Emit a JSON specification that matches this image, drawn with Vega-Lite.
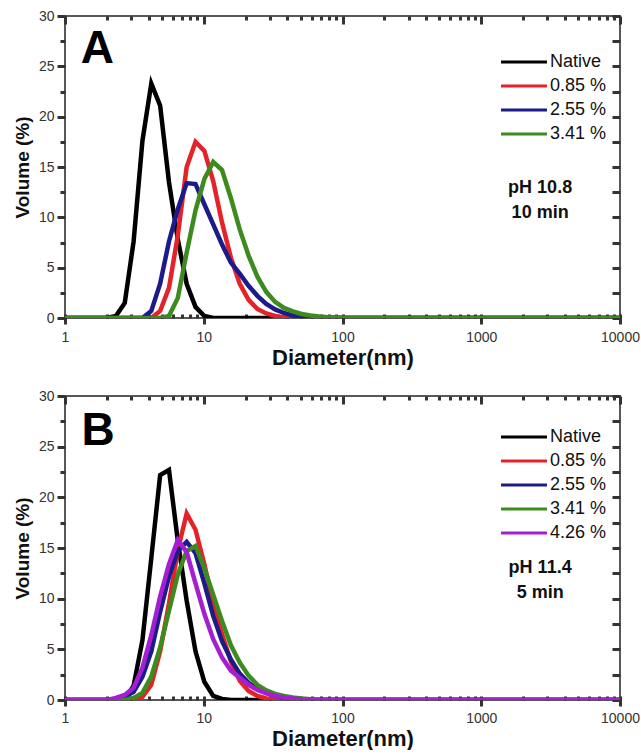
{
  "$schema": "https://vega.github.io/schema/vega-lite/v6.json",
  "padding": {"left": 12, "top": 8, "right": 0, "bottom": 0},
  "spacing": 19,
  "background": "white",
  "config": {
    "view": {"stroke": "#222", "strokeWidth": 1.5},
    "axis": {"domain": false, "grid": false},
    "legend": {
      "orient": "none",
      "title": null,
      "padding": 0,
      "symbolType": "M-8,0H8",
      "symbolSize": 33,
      "symbolStrokeWidth": 3,
      "labelFont": "Liberation Sans",
      "labelFontSize": 18,
      "labelColor": "#111",
      "labelOffset": 17,
      "rowPadding": 6
    }
  },
  "datasets": {
    "a": [
      {"d": 0.965, "v": 0, "s": "Native"}, {"d": 2.010, "v": 0, "s": "Native"}, {"d": 2.328, "v": 0.2, "s": "Native"}, {"d": 2.696, "v": 1.5, "s": "Native"}, {"d": 3.122, "v": 7.6, "s": "Native"}, {"d": 3.615, "v": 17.6, "s": "Native"}, {"d": 4.187, "v": 23.3, "s": "Native"}, {"d": 4.849, "v": 21.1, "s": "Native"}, {"d": 5.615, "v": 13.5, "s": "Native"}, {"d": 6.503, "v": 7.8, "s": "Native"}, {"d": 7.531, "v": 3.4, "s": "Native"}, {"d": 8.721, "v": 1.1, "s": "Native"}, {"d": 10.10, "v": 0.2, "s": "Native"}, {"d": 11.70, "v": 0, "s": "Native"}, {"d": 10000, "v": 0, "s": "Native"},
      {"d": 0.965, "v": 0, "s": "0.85 %"}, {"d": 4.187, "v": 0, "s": "0.85 %"}, {"d": 4.849, "v": 0.7, "s": "0.85 %"}, {"d": 5.615, "v": 3.0, "s": "0.85 %"}, {"d": 6.503, "v": 8.2, "s": "0.85 %"}, {"d": 7.531, "v": 15.0, "s": "0.85 %"}, {"d": 8.721, "v": 17.5, "s": "0.85 %"}, {"d": 10.10, "v": 16.6, "s": "0.85 %"}, {"d": 11.70, "v": 13.6, "s": "0.85 %"}, {"d": 13.54, "v": 9.5, "s": "0.85 %"}, {"d": 15.69, "v": 6.0, "s": "0.85 %"}, {"d": 18.17, "v": 3.4, "s": "0.85 %"}, {"d": 21.04, "v": 1.8, "s": "0.85 %"}, {"d": 24.36, "v": 0.9, "s": "0.85 %"}, {"d": 28.21, "v": 0.45, "s": "0.85 %"}, {"d": 32.67, "v": 0.2, "s": "0.85 %"}, {"d": 37.84, "v": 0.08, "s": "0.85 %"}, {"d": 43.82, "v": 0, "s": "0.85 %"}, {"d": 10000, "v": 0, "s": "0.85 %"},
      {"d": 0.965, "v": 0, "s": "2.55 %"}, {"d": 3.615, "v": 0, "s": "2.55 %"}, {"d": 4.187, "v": 0.7, "s": "2.55 %"}, {"d": 4.849, "v": 3.4, "s": "2.55 %"}, {"d": 5.615, "v": 7.6, "s": "2.55 %"}, {"d": 6.503, "v": 10.8, "s": "2.55 %"}, {"d": 7.531, "v": 13.4, "s": "2.55 %"}, {"d": 8.721, "v": 13.3, "s": "2.55 %"}, {"d": 10.10, "v": 11.3, "s": "2.55 %"}, {"d": 11.70, "v": 9.3, "s": "2.55 %"}, {"d": 13.54, "v": 7.3, "s": "2.55 %"}, {"d": 15.69, "v": 5.5, "s": "2.55 %"}, {"d": 18.17, "v": 4.4, "s": "2.55 %"}, {"d": 21.04, "v": 3.2, "s": "2.55 %"}, {"d": 24.36, "v": 2.2, "s": "2.55 %"}, {"d": 28.21, "v": 1.4, "s": "2.55 %"}, {"d": 32.67, "v": 0.85, "s": "2.55 %"}, {"d": 37.84, "v": 0.5, "s": "2.55 %"}, {"d": 43.82, "v": 0.25, "s": "2.55 %"}, {"d": 50.75, "v": 0.12, "s": "2.55 %"}, {"d": 58.77, "v": 0.05, "s": "2.55 %"}, {"d": 68.06, "v": 0, "s": "2.55 %"}, {"d": 10000, "v": 0, "s": "2.55 %"},
      {"d": 0.965, "v": 0, "s": "3.41 %"}, {"d": 4.849, "v": 0, "s": "3.41 %"}, {"d": 5.615, "v": 0.2, "s": "3.41 %"}, {"d": 6.503, "v": 2.0, "s": "3.41 %"}, {"d": 7.531, "v": 6.5, "s": "3.41 %"}, {"d": 8.721, "v": 10.7, "s": "3.41 %"}, {"d": 10.10, "v": 13.8, "s": "3.41 %"}, {"d": 11.70, "v": 15.5, "s": "3.41 %"}, {"d": 13.54, "v": 14.7, "s": "3.41 %"}, {"d": 15.69, "v": 11.9, "s": "3.41 %"}, {"d": 18.17, "v": 8.8, "s": "3.41 %"}, {"d": 21.04, "v": 6.2, "s": "3.41 %"}, {"d": 24.36, "v": 4.1, "s": "3.41 %"}, {"d": 28.21, "v": 2.6, "s": "3.41 %"}, {"d": 32.67, "v": 1.6, "s": "3.41 %"}, {"d": 37.84, "v": 1.0, "s": "3.41 %"}, {"d": 43.82, "v": 0.65, "s": "3.41 %"}, {"d": 50.75, "v": 0.4, "s": "3.41 %"}, {"d": 58.77, "v": 0.25, "s": "3.41 %"}, {"d": 68.06, "v": 0.15, "s": "3.41 %"}, {"d": 78.82, "v": 0.08, "s": "3.41 %"}, {"d": 91.28, "v": 0.04, "s": "3.41 %"}, {"d": 105.7, "v": 0, "s": "3.41 %"}, {"d": 10000, "v": 0, "s": "3.41 %"}
    ],
    "b": [
      {"d": 0.965, "v": 0, "s": "Native"}, {"d": 2.328, "v": 0, "s": "Native"}, {"d": 2.696, "v": 0.1, "s": "Native"}, {"d": 3.122, "v": 1.4, "s": "Native"}, {"d": 3.615, "v": 5.9, "s": "Native"}, {"d": 4.187, "v": 14.0, "s": "Native"}, {"d": 4.849, "v": 22.2, "s": "Native"}, {"d": 5.615, "v": 22.7, "s": "Native"}, {"d": 6.503, "v": 15.7, "s": "Native"}, {"d": 7.531, "v": 9.8, "s": "Native"}, {"d": 8.721, "v": 4.8, "s": "Native"}, {"d": 10.10, "v": 1.8, "s": "Native"}, {"d": 11.70, "v": 0.4, "s": "Native"}, {"d": 13.54, "v": 0.1, "s": "Native"}, {"d": 15.69, "v": 0, "s": "Native"}, {"d": 10000, "v": 0, "s": "Native"},
      {"d": 0.965, "v": 0, "s": "0.85 %"}, {"d": 3.122, "v": 0, "s": "0.85 %"}, {"d": 3.615, "v": 0.3, "s": "0.85 %"}, {"d": 4.187, "v": 1.5, "s": "0.85 %"}, {"d": 4.849, "v": 4.8, "s": "0.85 %"}, {"d": 5.615, "v": 9.5, "s": "0.85 %"}, {"d": 6.503, "v": 14.8, "s": "0.85 %"}, {"d": 7.531, "v": 18.4, "s": "0.85 %"}, {"d": 8.721, "v": 16.8, "s": "0.85 %"}, {"d": 10.10, "v": 13.4, "s": "0.85 %"}, {"d": 11.70, "v": 9.6, "s": "0.85 %"}, {"d": 13.54, "v": 6.5, "s": "0.85 %"}, {"d": 15.69, "v": 3.8, "s": "0.85 %"}, {"d": 18.17, "v": 1.9, "s": "0.85 %"}, {"d": 21.04, "v": 0.9, "s": "0.85 %"}, {"d": 24.36, "v": 0.4, "s": "0.85 %"}, {"d": 28.21, "v": 0.15, "s": "0.85 %"}, {"d": 32.67, "v": 0.05, "s": "0.85 %"}, {"d": 37.84, "v": 0, "s": "0.85 %"}, {"d": 10000, "v": 0, "s": "0.85 %"},
      {"d": 0.965, "v": 0, "s": "2.55 %"}, {"d": 2.328, "v": 0, "s": "2.55 %"}, {"d": 2.696, "v": 0.3, "s": "2.55 %"}, {"d": 3.122, "v": 0.8, "s": "2.55 %"}, {"d": 3.615, "v": 2.3, "s": "2.55 %"}, {"d": 4.187, "v": 4.8, "s": "2.55 %"}, {"d": 4.849, "v": 8.7, "s": "2.55 %"}, {"d": 5.615, "v": 12.2, "s": "2.55 %"}, {"d": 6.503, "v": 14.7, "s": "2.55 %"}, {"d": 7.531, "v": 15.6, "s": "2.55 %"}, {"d": 8.721, "v": 14.5, "s": "2.55 %"}, {"d": 10.10, "v": 11.5, "s": "2.55 %"}, {"d": 11.70, "v": 8.3, "s": "2.55 %"}, {"d": 13.54, "v": 5.8, "s": "2.55 %"}, {"d": 15.69, "v": 4.0, "s": "2.55 %"}, {"d": 18.17, "v": 2.6, "s": "2.55 %"}, {"d": 21.04, "v": 1.7, "s": "2.55 %"}, {"d": 24.36, "v": 1.1, "s": "2.55 %"}, {"d": 28.21, "v": 0.7, "s": "2.55 %"}, {"d": 32.67, "v": 0.4, "s": "2.55 %"}, {"d": 37.84, "v": 0.2, "s": "2.55 %"}, {"d": 43.82, "v": 0.1, "s": "2.55 %"}, {"d": 50.75, "v": 0.05, "s": "2.55 %"}, {"d": 58.77, "v": 0, "s": "2.55 %"}, {"d": 10000, "v": 0, "s": "2.55 %"},
      {"d": 0.965, "v": 0, "s": "3.41 %"}, {"d": 2.696, "v": 0, "s": "3.41 %"}, {"d": 3.122, "v": 0.2, "s": "3.41 %"}, {"d": 3.615, "v": 0.7, "s": "3.41 %"}, {"d": 4.187, "v": 2.3, "s": "3.41 %"}, {"d": 4.849, "v": 5.2, "s": "3.41 %"}, {"d": 5.615, "v": 8.8, "s": "3.41 %"}, {"d": 6.503, "v": 12.4, "s": "3.41 %"}, {"d": 7.531, "v": 14.7, "s": "3.41 %"}, {"d": 8.721, "v": 15.2, "s": "3.41 %"}, {"d": 10.10, "v": 13.0, "s": "3.41 %"}, {"d": 11.70, "v": 10.4, "s": "3.41 %"}, {"d": 13.54, "v": 7.8, "s": "3.41 %"}, {"d": 15.69, "v": 5.4, "s": "3.41 %"}, {"d": 18.17, "v": 3.7, "s": "3.41 %"}, {"d": 21.04, "v": 2.4, "s": "3.41 %"}, {"d": 24.36, "v": 1.5, "s": "3.41 %"}, {"d": 28.21, "v": 0.95, "s": "3.41 %"}, {"d": 32.67, "v": 0.6, "s": "3.41 %"}, {"d": 37.84, "v": 0.4, "s": "3.41 %"}, {"d": 43.82, "v": 0.25, "s": "3.41 %"}, {"d": 50.75, "v": 0.15, "s": "3.41 %"}, {"d": 58.77, "v": 0.08, "s": "3.41 %"}, {"d": 68.06, "v": 0.03, "s": "3.41 %"}, {"d": 78.82, "v": 0, "s": "3.41 %"}, {"d": 10000, "v": 0, "s": "3.41 %"},
      {"d": 0.965, "v": 0, "s": "4.26 %"}, {"d": 2.010, "v": 0, "s": "4.26 %"}, {"d": 2.328, "v": 0.2, "s": "4.26 %"}, {"d": 2.696, "v": 0.5, "s": "4.26 %"}, {"d": 3.122, "v": 1.2, "s": "4.26 %"}, {"d": 3.615, "v": 3.2, "s": "4.26 %"}, {"d": 4.187, "v": 6.4, "s": "4.26 %"}, {"d": 4.849, "v": 10.2, "s": "4.26 %"}, {"d": 5.615, "v": 13.4, "s": "4.26 %"}, {"d": 6.503, "v": 15.8, "s": "4.26 %"}, {"d": 7.531, "v": 14.6, "s": "4.26 %"}, {"d": 8.721, "v": 11.5, "s": "4.26 %"}, {"d": 10.10, "v": 8.5, "s": "4.26 %"}, {"d": 11.70, "v": 6.0, "s": "4.26 %"}, {"d": 13.54, "v": 4.2, "s": "4.26 %"}, {"d": 15.69, "v": 2.9, "s": "4.26 %"}, {"d": 18.17, "v": 2.2, "s": "4.26 %"}, {"d": 21.04, "v": 1.5, "s": "4.26 %"}, {"d": 24.36, "v": 1.0, "s": "4.26 %"}, {"d": 28.21, "v": 0.65, "s": "4.26 %"}, {"d": 32.67, "v": 0.4, "s": "4.26 %"}, {"d": 37.84, "v": 0.25, "s": "4.26 %"}, {"d": 43.82, "v": 0.15, "s": "4.26 %"}, {"d": 50.75, "v": 0.08, "s": "4.26 %"}, {"d": 58.77, "v": 0.03, "s": "4.26 %"}, {"d": 68.06, "v": 0, "s": "4.26 %"}, {"d": 10000, "v": 0, "s": "4.26 %"}
    ]
  },
  "resolve": {"scale": {"color": "independent"}, "legend": {"color": "independent"}},
  "vconcat": [
    {
      "width": 555,
      "height": 302,
      "resolve": {"axis": {"x": "independent", "y": "independent"}},
      "layer": [
        {
          "data": {"name": "a"},
          "mark": {"type": "line", "strokeWidth": 4.5, "clip": true},
          "encoding": {
            "x": {"field": "d", "type": "quantitative",
              "scale": {"type": "log", "domain": [1, 10000], "nice": false},
              "axis": {"orient": "bottom", "offset": -4, "tickColor": "#333", "tickWidth": 3,
                "labelFont": "Liberation Sans", "labelFontSize": 14, "labelColor": "#333",
                "titleFont": "Liberation Sans", "titleFontWeight": "bold", "titleColor": "#111",
                "title": "Diameter(nm)", "titleFontSize": 22, "titlePadding": 3,
                "values": [1,2,3,4,5,6,7,8,9,10,20,30,40,50,60,70,80,90,100,200,300,400,500,600,700,800,900,1000,2000,3000,4000,5000,6000,7000,8000,9000,10000],
                "format": "d", "labelFlush": false, "labelOverlap": false, "labelPadding": 6,
                "labelExpr": "indexof(['1','10','100','1000','10000'], datum.label) >= 0 ? datum.label : ''",
                "tickSize": {"condition": {"test": "indexof([1,10,100,1000,10000], datum.value) >= 0", "value": 10}, "value": 4}}},
            "y": {"field": "v", "type": "quantitative",
              "scale": {"domain": [0, 30], "nice": false},
              "axis": {"orient": "left", "tickColor": "#333", "tickWidth": 3,
                "labelFont": "Liberation Sans", "labelFontSize": 14, "labelColor": "#333",
                "titleFont": "Liberation Sans", "titleFontWeight": "bold", "titleColor": "#111",
                "title": "Volume (%)", "titleFontSize": 19, "titlePadding": 6,
                "values": [0,2.5,5,7.5,10,12.5,15,17.5,20,22.5,25,27.5,30],
                "labelExpr": "datum.value % 5 === 0 ? datum.label : ''", "labelPadding": 3,
                "tickSize": {"condition": {"test": "datum.value % 5 === 0", "value": 8}, "value": 5}}},
            "color": {"field": "s", "type": "nominal",
              "scale": {"domain": ["Native", "0.85 %", "2.55 %", "3.41 %"], "range": ["#000000", "#e3222a", "#1d1a8a", "#3d8a1f"]},
              "legend": {"legendX": 450, "legendY": 37}}
          }
        },
        {
          "data": {"values": [{"x": 2657, "y": 12.9, "t": "pH 10.8"}, {"x": 2657, "y": 10.4, "t": "10 min"}]},
          "mark": {"type": "text", "fontSize": 18, "fontWeight": "bold", "color": "#111", "font": "Liberation Sans"},
          "encoding": {
            "x": {"field": "x", "type": "quantitative", "scale": {"type": "log", "domain": [1, 10000], "nice": false},
              "axis": {"orient": "top", "tickColor": "#333", "tickWidth": 3, "title": null, "labels": false, "tickSize": -8,
                "values": [1,10,100,1000,10000]}},
            "y": {"field": "y", "type": "quantitative", "scale": {"domain": [0, 30], "nice": false},
              "axis": {"orient": "right", "tickColor": "#333", "tickWidth": 3, "title": null, "labels": false, "tickSize": -8,
                "values": [0,2.5,5,7.5,10,12.5,15,17.5,20,22.5,25,27.5,30]}},
            "text": {"field": "t"}
          }
        },
        {
          "data": {"values": [{"x": 1.71, "y": 26.7, "t": "A"}]},
          "mark": {"type": "text", "fontSize": 46, "fontWeight": "bold", "color": "#000", "font": "Liberation Sans"},
          "encoding": {
            "x": {"field": "x", "type": "quantitative", "scale": {"type": "log", "domain": [1, 10000], "nice": false},
              "axis": {"orient": "top", "tickColor": "#333", "tickWidth": 3, "title": null, "labels": false, "tickSize": -4,
                "values": [2,3,4,5,6,7,8,9,20,30,40,50,60,70,80,90,200,300,400,500,600,700,800,900,2000,3000,4000,5000,6000,7000,8000,9000]}},
            "y": {"field": "y", "type": "quantitative", "scale": {"domain": [0, 30], "nice": false}, "axis": null},
            "text": {"field": "t"}
          }
        }
      ]
    },
    {
      "width": 555,
      "height": 304,
      "resolve": {"axis": {"x": "independent", "y": "independent"}},
      "layer": [
        {
          "data": {"name": "b"},
          "mark": {"type": "line", "strokeWidth": 4.5, "clip": true},
          "encoding": {
            "x": {"field": "d", "type": "quantitative",
              "scale": {"type": "log", "domain": [1, 10000], "nice": false},
              "axis": {"orient": "bottom", "offset": -4, "tickColor": "#333", "tickWidth": 3,
                "labelFont": "Liberation Sans", "labelFontSize": 14, "labelColor": "#333",
                "titleFont": "Liberation Sans", "titleFontWeight": "bold", "titleColor": "#111",
                "title": "Diameter(nm)", "titleFontSize": 22, "titlePadding": 3,
                "values": [1,2,3,4,5,6,7,8,9,10,20,30,40,50,60,70,80,90,100,200,300,400,500,600,700,800,900,1000,2000,3000,4000,5000,6000,7000,8000,9000,10000],
                "format": "d", "labelFlush": false, "labelOverlap": false, "labelPadding": 5,
                "labelExpr": "indexof(['1','10','100','1000','10000'], datum.label) >= 0 ? datum.label : ''",
                "tickSize": {"condition": {"test": "indexof([1,10,100,1000,10000], datum.value) >= 0", "value": 10}, "value": 4}}},
            "y": {"field": "v", "type": "quantitative",
              "scale": {"domain": [0, 30], "nice": false},
              "axis": {"orient": "left", "tickColor": "#333", "tickWidth": 3,
                "labelFont": "Liberation Sans", "labelFontSize": 14, "labelColor": "#333",
                "titleFont": "Liberation Sans", "titleFontWeight": "bold", "titleColor": "#111",
                "title": "Volume (%)", "titleFontSize": 19, "titlePadding": 6,
                "values": [0,2.5,5,7.5,10,12.5,15,17.5,20,22.5,25,27.5,30],
                "labelExpr": "datum.value % 5 === 0 ? datum.label : ''", "labelPadding": 3,
                "tickSize": {"condition": {"test": "datum.value % 5 === 0", "value": 8}, "value": 5}}},
            "color": {"field": "s", "type": "nominal",
              "scale": {"domain": ["Native", "0.85 %", "2.55 %", "3.41 %", "4.26 %"], "range": ["#000000", "#e3222a", "#1d1a8a", "#3d8a1f", "#a51fd2"]},
              "legend": {"legendX": 450, "legendY": 32}}
          }
        },
        {
          "data": {"values": [{"x": 2657, "y": 13.0, "t": "pH 11.4"}, {"x": 2657, "y": 10.6, "t": "5 min"}]},
          "mark": {"type": "text", "fontSize": 18, "fontWeight": "bold", "color": "#111", "font": "Liberation Sans"},
          "encoding": {
            "x": {"field": "x", "type": "quantitative", "scale": {"type": "log", "domain": [1, 10000], "nice": false},
              "axis": {"orient": "top", "tickColor": "#333", "tickWidth": 3, "title": null, "labels": false, "tickSize": -8,
                "values": [1,10,100,1000,10000]}},
            "y": {"field": "y", "type": "quantitative", "scale": {"domain": [0, 30], "nice": false},
              "axis": {"orient": "right", "tickColor": "#333", "tickWidth": 3, "title": null, "labels": false, "tickSize": -8,
                "values": [0,2.5,5,7.5,10,12.5,15,17.5,20,22.5,25,27.5,30]}},
            "text": {"field": "t"}
          }
        },
        {
          "data": {"values": [{"x": 1.73, "y": 26.5, "t": "B"}]},
          "mark": {"type": "text", "fontSize": 46, "fontWeight": "bold", "color": "#000", "font": "Liberation Sans"},
          "encoding": {
            "x": {"field": "x", "type": "quantitative", "scale": {"type": "log", "domain": [1, 10000], "nice": false},
              "axis": {"orient": "top", "tickColor": "#333", "tickWidth": 3, "title": null, "labels": false, "tickSize": -4,
                "values": [2,3,4,5,6,7,8,9,20,30,40,50,60,70,80,90,200,300,400,500,600,700,800,900,2000,3000,4000,5000,6000,7000,8000,9000]}},
            "y": {"field": "y", "type": "quantitative", "scale": {"domain": [0, 30], "nice": false}, "axis": null},
            "text": {"field": "t"}
          }
        }
      ]
    }
  ]
}
